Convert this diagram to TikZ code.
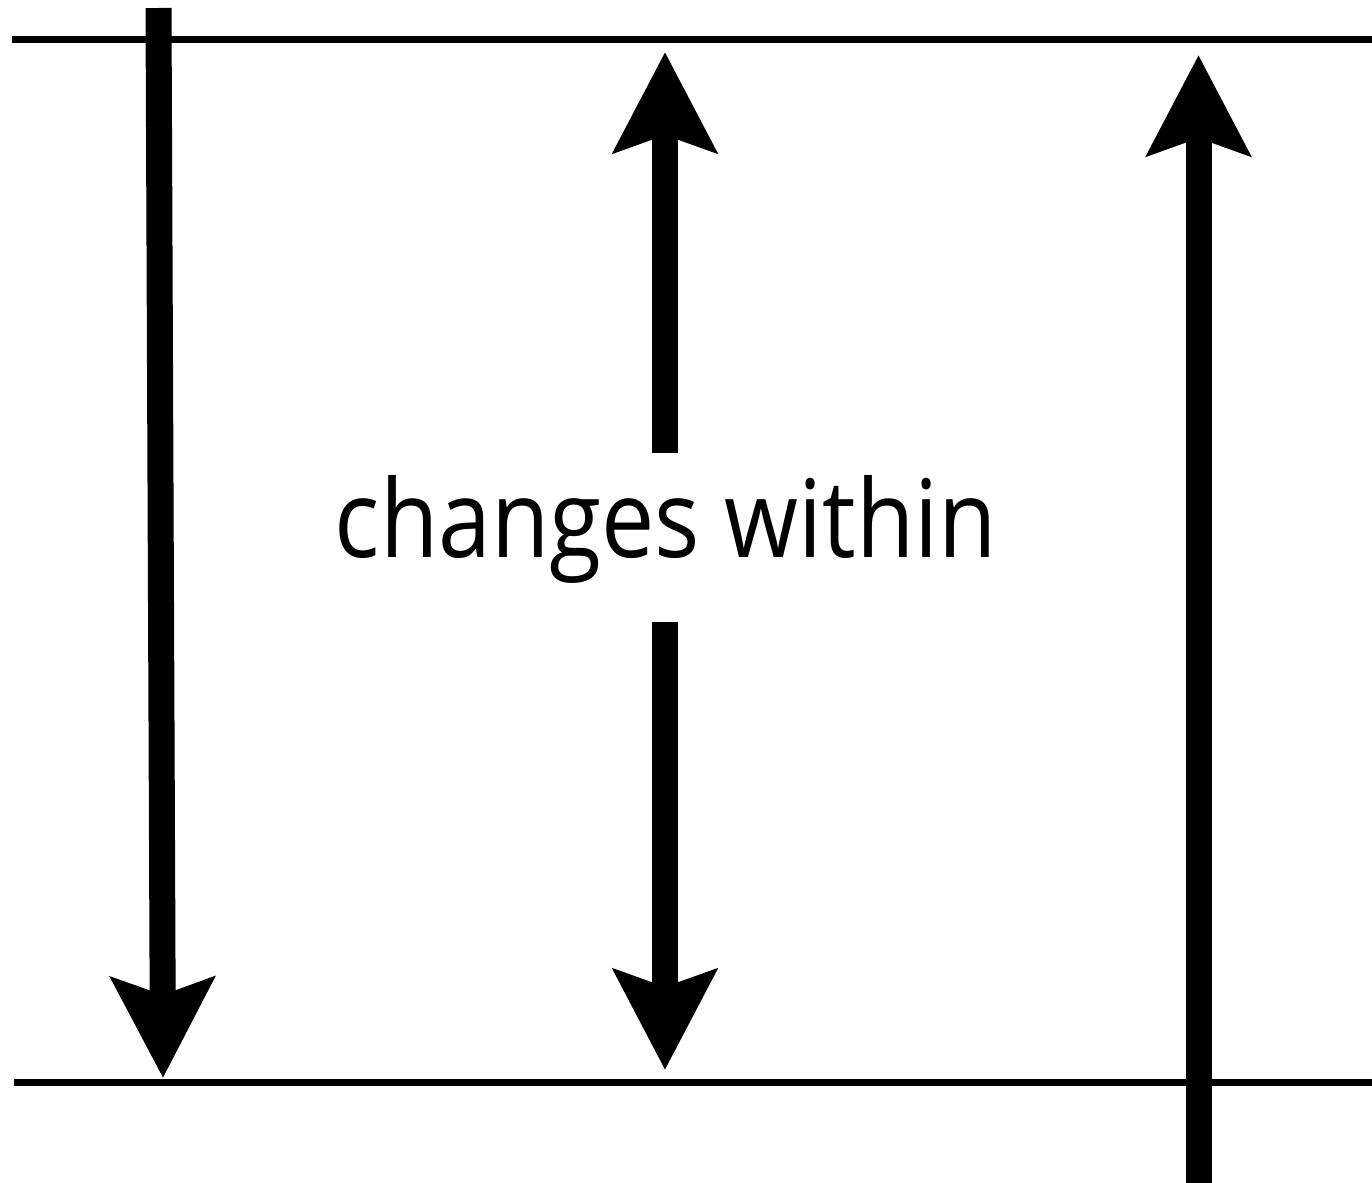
\documentclass[tikz,border=0pt]{standalone}
\usepackage{fontspec}
\newfontfamily\gillfont[FakeStretch=0.88]{Open Sans}
\usetikzlibrary{arrows.meta}

\begin{document}
\begin{tikzpicture}[x=0.5pt, y=-0.5pt,
			>={Stealth[length=50pt, width=51pt, inset=8.5pt]},   %big solid heads
			level/.style={black, line width=3.5pt},
			shaft/.style={black, line width=13pt},
			font=\gillfont\fontsize{54}{62}\selectfont]
			\useasboundingbox (0,0) rectangle (1372,1183);
			\coordinate (topL) at (12,39);
			\coordinate (topR) at (1372,39);
			\coordinate (botL) at (14,1082);
			\coordinate (botR) at (1372,1082);
			\draw[level] (topL) -- (topR);
			\draw[level] (botL) -- (botR);
			\node[anchor=base, inner sep=0pt] (label) at (666,557) {changes within};
			\coordinate (leftstart) at (158.5,8);
			\coordinate (leftend) at (163,1078);
			\coordinate (midup) at (665,453);
			\coordinate (midtop) at (665,52);
			\coordinate (middown) at (665,622);
			\coordinate (midbot) at (665,1070);
			\coordinate (rightstart) at (1198.5,1183);
			\coordinate (rightend) at (1198.5,55);
			\draw[shaft,->] (leftstart) -- (leftend);
			\draw[shaft,->] (midup) -- (midtop);
			\draw[shaft,->] (middown) -- (midbot);
			\draw[shaft,->] (rightstart) -- (rightend);
		\end{tikzpicture}
\end{document}
